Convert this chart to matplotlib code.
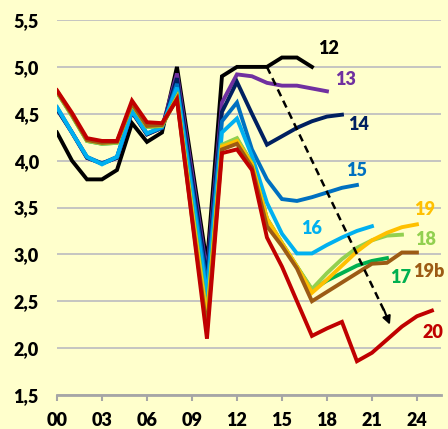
import numpy as np
import matplotlib
matplotlib.use('Agg')
import matplotlib.pyplot as plt

plt.rcParams['font.family'] = ['Lato', 'DejaVu Sans']
plt.rcParams['font.weight'] = 'bold'

# vintages, values from 2000 onward
s12 = [4.3, 4.0, 3.8, 3.8, 3.9, 4.4, 4.2, 4.3, 5.0, 3.95, 2.9,
       4.9, 5.0, 5.0, 5.0, 5.1, 5.1, 5.0]
s13 = [4.55, 4.3, 4.03, 3.97, 4.03, 4.52, 4.28, 4.35, 4.93, 3.87, 2.8,
       4.62, 4.92, 4.9, 4.83, 4.8, 4.8, 4.77, 4.74]
s14 = [4.55, 4.3, 4.03, 3.97, 4.03, 4.52, 4.28, 4.35, 4.88, 3.8, 2.75,
       4.52, 4.84, 4.5, 4.17, 4.26, 4.35, 4.42, 4.47, 4.49]
s15 = [4.57, 4.3, 4.04, 3.97, 4.04, 4.53, 4.29, 4.35, 4.82, 3.72, 2.65,
       4.42, 4.62, 4.12, 3.8, 3.59, 3.57, 3.61, 3.66, 3.71, 3.74]
s16 = [4.57, 4.3, 4.04, 3.96, 4.04, 4.53, 4.29, 4.36, 4.78, 3.65, 2.55,
       4.3, 4.45, 4.05, 3.55, 3.22, 3.01, 3.01, 3.1, 3.18, 3.25, 3.3]
s17 = [4.73, 4.48, 4.21, 4.18, 4.19, 4.6, 4.36, 4.37, 4.68, 3.5, 2.35,
       4.16, 4.23, 3.97, 3.38, 3.12, 2.87, 2.62, 2.72, 2.8, 2.88, 2.93, 2.96]
s18 = [4.73, 4.48, 4.21, 4.18, 4.19, 4.6, 4.36, 4.37, 4.68, 3.5, 2.35,
       4.17, 4.24, 3.97, 3.38, 3.12, 2.87, 2.63, 2.8, 2.95, 3.07, 3.15, 3.2, 3.21]
s19 = [4.74, 4.49, 4.22, 4.19, 4.2, 4.61, 4.37, 4.38, 4.67, 3.45, 2.3,
       4.15, 4.21, 3.96, 3.38, 3.12, 2.87, 2.59, 2.73, 2.88, 3.03, 3.15, 3.23, 3.29, 3.32]
s19b = [4.74, 4.49, 4.22, 4.19, 4.2, 4.61, 4.37, 4.38, 4.66, 3.4, 2.2,
        4.12, 4.18, 3.93, 3.3, 3.09, 2.85, 2.5, 2.6, 2.7, 2.8, 2.9, 2.91, 3.02, 3.02]
s20 = [4.75, 4.51, 4.24, 4.21, 4.21, 4.64, 4.41, 4.4, 4.65, 3.38, 2.1,
       4.08, 4.12, 3.9, 3.18, 2.87, 2.5, 2.13, 2.21, 2.28, 1.86, 1.95, 2.09, 2.23, 2.34, 2.4]

series = [s12, s13, s14, s15, s16, s17, s18, s19, s19b, s20]
names = ['12', '13', '14', '15', '16', '17', '18', '19', '19b', '20']
colors = ['#000000', '#7030A0', '#002060', '#0070C0', '#00B0F0',
          '#00B050', '#92D050', '#FFC000', '#9C5B14', '#C00000']
# where each label sits (year offset, value)
label_pos = [(18.1, 5.2), (19.25, 4.87), (20.1, 4.39), (20.0, 3.89), (17.0, 3.28),
             (22.9, 2.75), (24.6, 3.16), (24.5, 3.48), (24.8, 2.82), (25.1, 2.17)]

xticks = [0, 3, 6, 9, 12, 15, 18, 21, 24]
xticklabels = ['00', '03', '06', '09', '12', '15', '18', '21', '24']

fig = plt.figure(figsize=(4.48, 4.29), dpi=100)
fig.patch.set_facecolor('#FFFFCC')
ax = fig.add_axes([0.1272, 0.0793, 0.857, 0.874])
ax.set_facecolor('#FFFFCC')

for vals, c in zip(series, colors):
    x = np.arange(len(vals))
    ax.plot(x, vals, color=c, lw=2.8, solid_joinstyle='miter', zorder=3)

for name, c, (lx, ly) in zip(names, colors, label_pos):
    ax.text(lx, ly, name, color=c, fontsize=13, fontweight='heavy',
            ha='center', va='center', zorder=5)

# dashed arrow
ax.plot([14.0, 21.9], [5.0, 2.37], color='black', lw=1.8, ls=(0, (3, 2)), zorder=4)
ax.annotate('', xy=(22.2, 2.25), xytext=(21.8, 2.41),
            arrowprops=dict(arrowstyle='-|>', color='black', lw=1.5,
                            mutation_scale=12, shrinkA=0, shrinkB=0), zorder=4)

ax.set_xlim(0, 25.6)
ax.set_ylim(1.5, 5.5)
ax.set_yticks(np.arange(1.5, 5.51, 0.5))
ax.set_yticklabels([f'{v:.1f}'.replace('.', ',') for v in np.arange(1.5, 5.51, 0.5)])
ax.set_xticks(xticks)
ax.set_xticklabels(xticklabels)
ax.grid(axis='y', color='#C0C0C0', lw=1.3)
ax.set_axisbelow(True)
for sp in ['top', 'right', 'left']:
    ax.spines[sp].set_visible(False)
ax.spines['bottom'].set_color('#A6A6A6')
ax.spines['bottom'].set_linewidth(2)
ax.tick_params(axis='y', length=0, pad=13, labelsize=13)
ax.tick_params(axis='x', length=4, width=1.5, color='#A6A6A6', pad=8, labelsize=13)
for lab in ax.get_xticklabels() + ax.get_yticklabels():
    lab.set_fontweight('heavy')

fig.savefig('out.png', dpi=100, facecolor=fig.get_facecolor())
